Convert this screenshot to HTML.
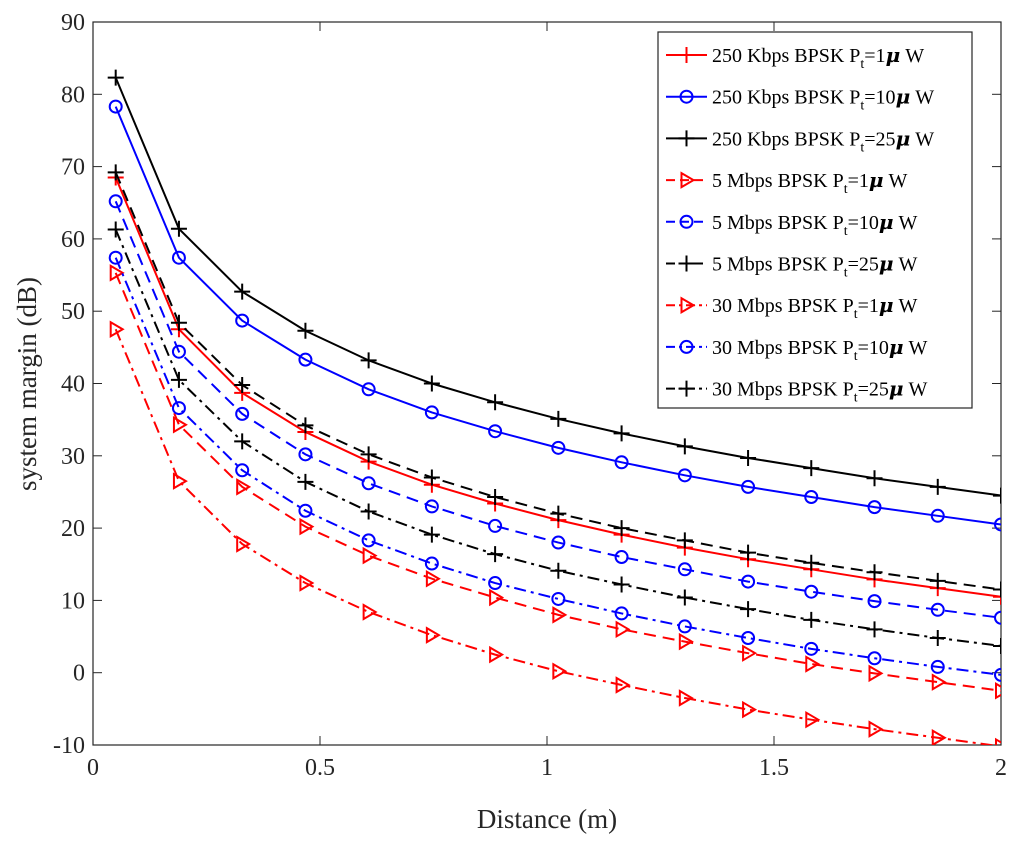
<!DOCTYPE html>
<html><head><meta charset="utf-8"><style>
body{margin:0;background:#fff}
svg{display:block;font-family:"Liberation Serif",serif}
</style></head><body>
<svg id="c" width="1024" height="847"></svg>
<script>
const xs=[0.05,0.1893,0.3286,0.4679,0.6071,0.7464,0.8857,1.025,1.1643,1.3036,1.4429,1.5821,1.7214,1.8607,2.0];
const s250_1=[68.5,47.5,38.7,33.3,29.2,26,23.4,21.1,19.1,17.3,15.7,14.3,12.9,11.7,10.5];
const s250_10=[78.3,57.4,48.7,43.3,39.2,36,33.4,31.1,29.1,27.3,25.7,24.3,22.9,21.7,20.5];
const s250_25=[82.3,61.4,52.7,47.3,43.2,40,37.4,35.1,33.1,31.3,29.7,28.3,26.9,25.7,24.5];
const s5_1=[55.3,34.3,25.7,20.2,16.2,13,10.4,8,6,4.3,2.7,1.2,-0.1,-1.3,-2.5];
const s5_10=[65.2,44.4,35.8,30.2,26.2,23,20.3,18,16,14.3,12.6,11.2,9.9,8.7,7.6];
const s5_25=[69.2,48.4,39.8,34.2,30.2,27,24.3,22,20,18.3,16.6,15.2,13.9,12.7,11.5];
const s30_1=[47.5,26.5,17.8,12.4,8.4,5.2,2.5,0.2,-1.7,-3.5,-5.1,-6.5,-7.8,-9,-10.2];
const s30_10=[57.4,36.6,28,22.4,18.3,15.1,12.4,10.2,8.2,6.4,4.8,3.3,2,0.8,-0.3];
const s30_25=[61.3,40.5,32,26.4,22.3,19.1,16.4,14.1,12.2,10.4,8.8,7.3,6,4.8,3.7];
const xTicks=[0,0.5,1,1.5,2];
const xTickLabels=["0","0.5","1","1.5","2"];
const yTicks=[-10,0,10,20,30,40,50,60,70,80,90];
const legendRates=["250 Kbps","250 Kbps","250 Kbps","5 Mbps","5 Mbps","5 Mbps","30 Mbps","30 Mbps","30 Mbps"];
const legendPowers=["1","10","25","1","10","25","1","10","25"];

const L=93,T=22,R=1001,B=745;
const X=v=>L+(v-0)/2*(R-L);
const Y=v=>B-(v+10)/100*(B-T);
const NS="http://www.w3.org/2000/svg";
const svg=document.getElementById('c');
function el(t,a,p){const e=document.createElementNS(NS,t);for(const k in a)e.setAttribute(k,a[k]);(p||svg).appendChild(e);return e;}
const defs=el('defs',{});const cp=el('clipPath',{id:'cp'},defs);el('rect',{x:L,y:T,width:R-L,height:B-T},cp);

el('rect',{x:L,y:T,width:R-L,height:B-T,fill:'#fff',stroke:'#262626','stroke-width':1.2});
xTicks.forEach((t,i)=>{
 const g=el('g',{});
 
 
 el('line',{x1:X(t),x2:X(t),y1:B,y2:B-9,stroke:'#262626'},g);
 el('line',{x1:X(t),x2:X(t),y1:T,y2:T+9,stroke:'#262626'},g);
 const tx=el('text',{x:X(t),y:B+30,'text-anchor':'middle','font-size':24,fill:'#262626'},g);tx.textContent=xTickLabels[i];
});
yTicks.forEach(t=>{
 const g=el('g',{});
 
 
 el('line',{x1:L,x2:L+9,y1:Y(t),y2:Y(t),stroke:'#262626'},g);
 el('line',{x1:R,x2:R-9,y1:Y(t),y2:Y(t),stroke:'#262626'},g);
 const tx=el('text',{x:L-8,y:Y(t)+8,'text-anchor':'end','font-size':24,fill:'#262626'},g);tx.textContent=String(t);
});
const xl=el('text',{x:(L+R)/2,y:828,'text-anchor':'middle','font-size':27,fill:'#262626'});xl.textContent='Distance (m)';

const yl=el('text',{x:0,y:0,transform:'translate(36,384) rotate(-90)','text-anchor':'middle','font-size':27,fill:'#262626'});yl.textContent='system margin (dB)';


function marker(type,x,y,col,g){
 if(type==='+'){el('path',{d:`M${x-8},${y}H${x+8}M${x},${y-8}V${y+8}`,stroke:col,'stroke-width':2,fill:'none'},g);}
 else if(type==='o'){el('circle',{cx:x,cy:y,r:6,stroke:col,'stroke-width':2,fill:'none'},g);}
 else {el('path',{d:`M${x-5},${y-7}L${x+7},${y}L${x-5},${y+7}Z`,stroke:col,'stroke-width':2,fill:'none'},g);}
}
const RED='#ff0000',BLU='#0000ff',BLK='#000000';
const series=[
 [s250_1,RED,'+',''],[s250_10,BLU,'o',''],[s250_25,BLK,'+',''],
 [s5_1,RED,'>','12,7'],[s5_10,BLU,'o','12,7'],[s5_25,BLK,'+','12,7'],
 [s30_1,RED,'>','12,5,3,5'],[s30_10,BLU,'o','12,5,3,5'],[s30_25,BLK,'+','12,5,3,5']];
const names=['250k-1uw','250k-10uw','250k-25uw','5m-1uw','5m-10uw','5m-25uw','30m-1uw','30m-10uw','30m-25uw'];
series.forEach((s,i)=>{
 const g=el('g',{'clip-path':'url(#cp)'});
 
 
 const d=s[0].map((v,j)=>(j?'L':'M')+X(xs[j])+','+Y(v)).join('');
 const a={d:d,stroke:s[1],'stroke-width':2,fill:'none'};if(s[3])a['stroke-dasharray']=s[3];
 el('path',a,g);
 s[0].forEach((v,j)=>marker(s[2],X(xs[j]),Y(v),s[1],g));
});
// legend
const lg=el('g',{});


el('rect',{x:658,y:32,width:314,height:376,fill:'#fff',stroke:'#262626','stroke-width':1.2},lg);
series.forEach((s,i)=>{
 const y=55+i*41.7;
 const g=el('g',{},lg);
 
 
 const a={d:`M666,${y}H707`,stroke:s[1],'stroke-width':2,fill:'none'};if(s[3])a['stroke-dasharray']=s[3]==='12,7'?'9,5':'9,4,3,4';
 el('path',a,g);marker(s[2],686.5,y,s[1],g);
 const t=el('text',{x:712,y:y+7,'font-size':20,fill:'#000'},g);
 t.innerHTML=legendRates[i]+' BPSK P<tspan dy="6" font-size="14">t</tspan><tspan dy="-6">='+legendPowers[i]+'</tspan><tspan font-family="DejaVu Serif" font-style="italic" font-weight="bold">μ</tspan> W';
});
</script>
</body></html>
